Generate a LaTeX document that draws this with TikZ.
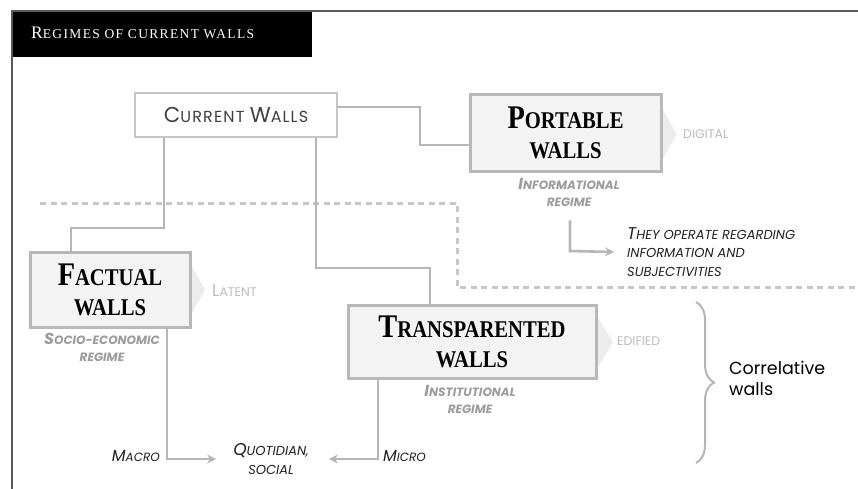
\documentclass[tikz,border=0pt]{standalone}
\usepackage{fontspec}
\setmainfont{Liberation Serif}
\newfontfamily\boxserif[FakeStretch=0.86]{Liberation Serif}
\newfontfamily\titleserif[LetterSpace=10]{Liberation Serif}
\newfontfamily\geo{Poppins}
\newfontfamily\geowide[LetterSpace=7]{Poppins}
\usetikzlibrary{arrows.meta,calc,decorations.pathreplacing}
\definecolor{framegray}{HTML}{5A5A5A}
\definecolor{linegray}{HTML}{B6B6B6}
\definecolor{boxgray}{HTML}{B8B8B8}
\definecolor{boxfill}{HTML}{F3F3F3}
\definecolor{chevfill}{HTML}{ECECEC}
\definecolor{palegray}{HTML}{BDBDBD}
\definecolor{regimegray}{HTML}{9C9C9C}
\definecolor{darktext}{HTML}{222222}
\newcommand\scx[4]{{\fontsize{#1}{#1}\selectfont #2}{\fontsize{#3}{#3}\selectfont #4}}
\tikzset{
  wallbox/.style={draw=boxgray, line width=3pt, fill=boxfill, inner sep=0pt, align=center,
    font=\boxserif\bfseries\fontsize{24}{30}\selectfont},
  conn/.style={draw=linegray, line width=2.6pt},
  arr/.style={conn, -{Stealth[length=9pt,width=9pt,inset=3pt]}},
  chev/.style={fill=chevfill, draw=none},
  pale/.style={font=\geo\fontsize{12.5}{12.5}\selectfont, text=palegray, inner sep=0pt, anchor=west},
  regime/.style={font=\geo\bfseries\itshape\fontsize{12}{17}\selectfont, text=regimegray, align=center, inner sep=0pt},
  dark/.style={font=\geo\itshape\fontsize{13}{18.5}\selectfont, text=darktext, inner sep=0pt},
  dashline/.style={draw=palegray!85, line width=3pt, dash pattern=on 6pt off 4.5pt}
}
\begin{document}
\begin{tikzpicture}[x=1pt,y=-1pt]
\useasboundingbox (0,0) rectangle (858,489);
\fill[white] (0,0) rectangle (858,489);
% frame and title
\node[fill=black, minimum width=300pt, minimum height=46pt, anchor=north west, inner sep=0pt] (titlebox) at (12,11) {};
\draw[framegray, line width=1.2pt] (12,489) -- (12,11) -- (858,11);
\node[anchor=west, inner sep=0pt, text=white, font=\titleserif] (title) at (31,33)
  {\scx{17.5}{R}{13.5}{EGIMES OF CURRENT WALLS}};

% dashed separator
\draw[dashline] (40,203) -- (457,203) -- (457,287) -- (858,287);

% boxes
\node[draw=boxgray!80, line width=1.6pt, fill=white, minimum width=202pt, minimum height=44pt, inner sep=0pt,
  text=black!75, font=\geowide] (cw) at (236,115) {\scx{21.5}{C}{16}{URRENT }\scx{21.5}{W}{16}{ALLS}};
\node[wallbox, minimum width=191pt, minimum height=76pt] (pw) at (565.5,133)
  {\scx{33}{P}{24}{ORTABLE}\\WALLS};
\node[wallbox, minimum width=160pt, minimum height=75pt] (fw) at (110,289.5)
  {\scx{33}{F}{24}{ACTUAL}\\WALLS};
\node[wallbox, minimum width=248pt, minimum height=73pt] (tw) at (472,341.5)
  {\scx{33}{T}{24}{RANSPARENTED}\\WALLS};

% chevrons
\fill[chev] (663,110) -- (677,134) -- (663,158) -- cycle;
\fill[chev] (192,266) -- (205,290) -- (192,313) -- cycle;
\fill[chev] (598,318) -- (613,342) -- (598,367) -- cycle;

% pale labels
\node[pale] (digital) at (683,134) {DIGITAL};
\node[pale] (latent) at (212,291) {\scx{17}{L}{12.5}{ATENT}};
\node[pale] (edified) at (617,341) {EDIFIED};

% regime labels
\node[regime] (pwreg) at (569,192) {\scx{16}{I}{12}{NFORMATIONAL}\\REGIME};
\node[regime] (fwreg) at (102,347) {\scx{16}{S}{12}{OCIO-ECONOMIC}\\REGIME};
\node[regime] (twreg) at (470,399) {\scx{16}{I}{12}{NSTITUTIONAL}\\REGIME};

% dark labels
\node[dark, anchor=east] (macro) at (160,456) {\scx{16}{M}{12}{ACRO}};
\node[dark, anchor=west] (micro) at (383,456) {\scx{16}{M}{12}{ICRO}};
\node[dark, align=center] (quot) at (271,459) {\scx{17}{Q}{13}{UOTIDIAN,}\\SOCIAL};
\node[dark, align=left, anchor=west] (they) at (627,252)
  {\scx{17}{T}{13}{HEY OPERATE REGARDING}\\INFORMATION AND\\SUBJECTIVITIES};

% correlative brace
\draw[linegray, line width=2pt, decorate, decoration={brace, amplitude=18pt, aspect=0.5}]
  (696,302) -- (696,463);
\node[anchor=west, inner sep=0pt, align=left, font=\geo\fontsize{17.5}{21}\selectfont, text=black] (corr) at (729,378)
  {Correlative\\walls};

% connectors
\draw[conn] ([yshift=8pt]cw.east) -- (420,107) -- (420,145) -- ([yshift=-12pt]pw.west);
\draw[conn] ([xshift=-72pt]cw.south) -- (164,228) -- (71,228) -- ([xshift=-39pt]fw.north);
\draw[conn] ([xshift=80pt]cw.south) -- (316,268) -- (430,268) -- ([xshift=-42pt]tw.north);
\draw[arr] ([xshift=57pt]fw.south) -- (167,459) -- ($(quot.west)+(-17,0)$);
\draw[arr] ([xshift=-94pt]tw.south) -- (378,459) -- ($(quot.east)+(20,0)$);
\draw[arr] ($(pwreg.south)+(1,14)$) -- (570,251) -- ($(they.west)+(-13,0)$);
\end{tikzpicture}
\end{document}
